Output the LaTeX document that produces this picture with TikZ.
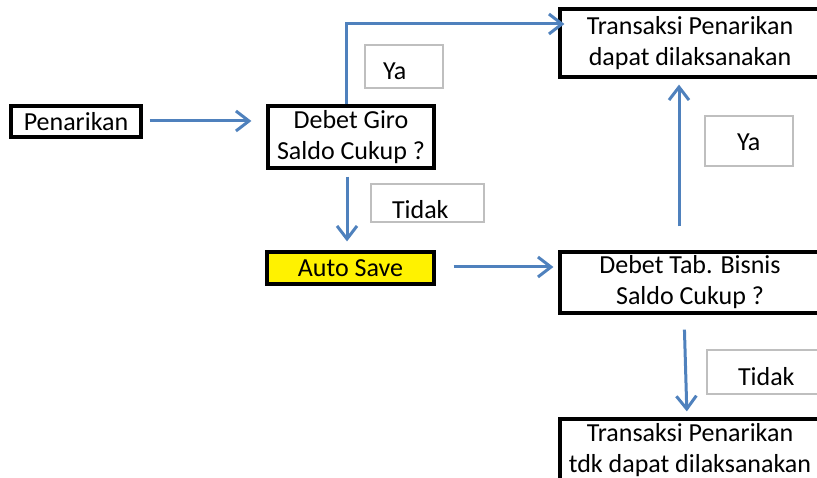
\documentclass[tikz,border=0pt]{standalone}
\usepackage{fontspec}
\setmainfont{Carlito}
\usepackage{tikz}
\usetikzlibrary{arrows.meta,calc}
\definecolor{flowblue}{RGB}{79,129,189}
\tikzset{step box/.style={draw, line width=3.2pt, align=center, inner sep=0pt},
  flow/.style={draw=flowblue, line width=3pt, -{Straight Barb[length=13pt,width=20pt,line width=3pt]}},
  tag/.style n args={3}{draw=gray!50, line width=2.2pt, inner ysep=0pt, align=left,
    text height=35pt, inner xsep=#1, text width=#2, text depth=#3}}

\begin{document}
\begin{tikzpicture}[x=1pt, y=-1pt, font=\fontsize{26}{31}\selectfont]
\path[use as bounding box, clip] (0,0) rectangle (817,478);

% Boxes of the flow
\node[step box, minimum width=130pt, minimum height=31pt] (pen) at (76,121.5) {Penarikan};
\node[step box, minimum width=166pt, minimum height=62pt] (giro) at (351,137) {Debet Giro\\Saldo Cukup ?};
\node[step box, minimum width=260pt, minimum height=68pt] (ok) at (690,43) {Transaksi Penarikan\\dapat dilaksanakan};
\node[step box, fill=yellow, minimum width=167pt, minimum height=32pt] (auto) at (350.5,268) {Auto Save};
\node[step box, minimum width=260pt, minimum height=61pt] (tab) at (690,282.5) {Debet Tab. Bisnis\\Saldo Cukup ?};
\node[step box, minimum width=260pt, minimum height=62pt] (fail) at (690,450) {Transaksi Penarikan\\tdk dapat dilaksanakan};

% Answer labels
\node[tag={18pt}{42pt}{8pt}] (ya1) at (404,66.5) {Ya};
\node[tag={21pt}{71pt}{3pt}] (tidak1) at (427.5,203) {Tidak};
\node[tag={32pt}{24pt}{15pt}] (ya2) at (749,141) {Ya};
\node[tag={31pt}{61pt}{9pt}] (tidak2) at (768.5,372) {Tidak};

% Connectors
\draw[flow, shorten <=7pt, shorten >=15pt] ([yshift=0.5pt]pen.east) -- ([yshift=0.5pt]pen.east -| giro.west);
\draw[flow, shorten >=-6pt] ([xshift=-5pt]giro.north) |- ([yshift=19pt]ok.west);
\draw[flow, shorten <=7pt, shorten >=9pt] ([xshift=-4pt]giro.south) -- ([xshift=-4pt]giro.south |- auto.north);
\draw[flow, shorten <=18pt, shorten >=5pt] ([yshift=1pt]auto.east) -- ([yshift=1pt]auto.east -| tab.west);
\draw[flow, shorten <=24pt, shorten >=6pt] ([xshift=-11pt]tab.north) -- ([xshift=-11pt]ok.south);
\draw[flow, shorten <=15pt, shorten >=6pt] ([xshift=-6pt]tab.south) -- ([xshift=-3pt]fail.north);

\end{tikzpicture}
\end{document}
